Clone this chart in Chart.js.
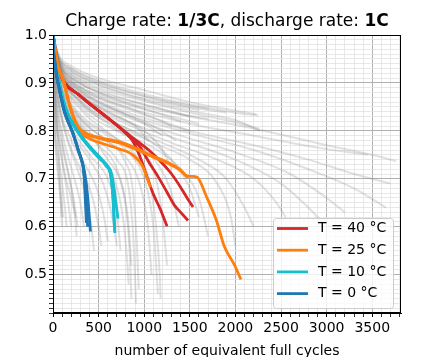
<!DOCTYPE html>
<html>
<head>
<meta charset="utf-8">
<script src="https://cdn.jsdelivr.net/npm/chart.js@4.4.0/dist/chart.umd.min.js"></script>
<style>
  html, body { margin: 0; padding: 0; background: #fff; overflow: hidden; }
  #wrap { position: relative; width: 423px; height: 360px; }
  #title {
    position: absolute; left: 53px; width: 348px; top: 12px;
    text-align: center; white-space: nowrap;
    font: 17px "DejaVu Sans"; line-height: 17px; color: #000;
  }
</style>
</head>
<body>
<div id="wrap">
  <canvas id="capChart" width="423" height="360"></canvas>
  <div id="title">Charge rate: <b>1/3C</b>, discharge rate: <b>1C</b></div>
</div>
<script>
// relative capacity vs. equivalent full cycles, points are [cycles, capacity]
var t40a = [[0,1.0],[10,0.99],[22,0.955],[77,0.92],[131,0.899],[277,0.876],[400,0.857],[600,0.827],[800,0.795],[870,0.78],
            [950,0.748],[1020,0.71],[1100,0.668],[1180,0.635],[1250,0.601]];
var t40b = [[0,1.0],[10,0.99],[22,0.955],[77,0.92],[131,0.899],[277,0.876],[400,0.857],[600,0.827],[800,0.795],[870,0.782],
            [960,0.765],[1050,0.735],[1150,0.705],[1250,0.672],[1330,0.645],[1400,0.63],[1480,0.613]];
var t40c = [[0,1.0],[10,0.99],[22,0.955],[77,0.92],[131,0.899],[277,0.876],[400,0.857],[600,0.827],[800,0.797],[880,0.785],
            [970,0.772],[1080,0.755],[1200,0.732],[1300,0.71],[1400,0.682],[1470,0.66],[1535,0.641]];

var t25a = [[0,1.0],[30,0.96],[70,0.925],[113,0.906],[160,0.87],[223,0.83],[280,0.808],[333,0.798],[516,0.786],[730,0.777],
            [875,0.767],[1000,0.756],[1100,0.747],[1250,0.735],[1390,0.72],[1470,0.706],[1520,0.705],[1580,0.703],
            [1680,0.664],[1790,0.614],[1880,0.558],[1990,0.52],[2060,0.49]];
var t25b = [[0,1.0],[30,0.96],[70,0.925],[113,0.906],[160,0.87],[223,0.83],[280,0.806],[333,0.796],[516,0.784],[730,0.775],
            [875,0.764],[1000,0.754],[1100,0.745],[1250,0.733],[1390,0.718],[1480,0.702]];
var t25c = [[0,1.0],[30,0.96],[70,0.925],[113,0.906],[160,0.868],[223,0.826],[280,0.8],[365,0.787],[550,0.773],[730,0.762],
            [875,0.75],[985,0.725],[1030,0.702],[1070,0.682]];

var t10a = [[0,1.0],[8,0.96],[30,0.93],[55,0.913],[110,0.865],[180,0.83],[290,0.795],[400,0.768],[510,0.745],[580,0.727],
            [630,0.71],[655,0.67],[668,0.63],[678,0.587]];
var t10b = [[0,1.0],[8,0.96],[30,0.93],[55,0.912],[110,0.863],[180,0.828],[290,0.793],[400,0.766],[510,0.745],[590,0.728],
            [640,0.712],[670,0.68],[690,0.65],[712,0.617]];
var t10c = [[0,1.0],[8,0.96],[30,0.93],[55,0.911],[110,0.862],[180,0.827],[290,0.792],[400,0.765],[510,0.742],[580,0.73],
            [625,0.715],[650,0.68],[665,0.63],[675,0.592]];

var t0a = [[0,1.0],[5,0.97],[18,0.948],[40,0.915],[73,0.885],[120,0.845],[146,0.83],[220,0.795],[275,0.762],[310,0.74],
           [330,0.725],[346,0.69],[358,0.64],[367,0.608]];
var t0b = [[0,1.0],[5,0.97],[18,0.946],[40,0.913],[73,0.882],[120,0.843],[146,0.828],[220,0.793],[275,0.76],[315,0.738],
           [340,0.72],[365,0.69],[390,0.64],[410,0.59]];
var t0c = [[0,1.0],[5,0.97],[18,0.947],[40,0.914],[73,0.884],[120,0.844],[146,0.829],[220,0.794],[275,0.761],[320,0.735],
           [342,0.71],[358,0.67],[372,0.625],[380,0.6]];

// all other cells of the test matrix, drawn faint in the background
var otherRuns = [
  [[0,1],[60,0.96],[200,0.935],[500,0.91],[1000,0.885],[1500,0.86],[2000,0.842],[2230,0.835]],
  [[0,1],[60,0.955],[200,0.93],[500,0.905],[1000,0.877],[1500,0.855],[2000,0.838],[2250,0.832]],
  [[0,1],[60,0.955],[200,0.925],[500,0.9],[1000,0.872],[1500,0.85],[1900,0.838]],
  [[0,1],[60,0.95],[200,0.92],[500,0.895],[1000,0.865],[1500,0.842],[2000,0.822],[2270,0.8]],
  [[0,1],[60,0.95],[200,0.918],[500,0.89],[1000,0.862],[1500,0.838],[2000,0.818],[2260,0.805]],
  [[0,1],[60,0.945],[200,0.91],[500,0.882],[1000,0.855],[1400,0.835],[1700,0.825]],
  [[0,1],[60,0.945],[200,0.905],[500,0.875],[900,0.85],[1300,0.83],[1600,0.815]],
  [[0,1],[60,0.94],[200,0.9],[500,0.868],[900,0.84],[1200,0.82],[1500,0.8]],
  [[0,1],[60,0.94],[200,0.895],[500,0.86],[800,0.835],[1100,0.81],[1350,0.78]],
  [[0,1],[60,0.935],[200,0.89],[500,0.85],[800,0.822],[1000,0.8],[1200,0.76],[1300,0.72]],
  [[0,1],[50,0.96],[200,0.93],[500,0.902],[900,0.878],[1300,0.86],[1700,0.846]],
  [[0,1],[50,0.955],[200,0.925],[500,0.897],[900,0.872],[1300,0.855],[1600,0.843]],
  [[0,1],[50,0.95],[200,0.915],[500,0.886],[900,0.86],[1200,0.845],[1500,0.83]],
  [[0,1],[50,0.95],[200,0.912],[500,0.88],[800,0.858],[1100,0.84],[1400,0.82]],
  [[0,1],[50,0.945],[200,0.905],[500,0.872],[800,0.85],[1100,0.828],[1300,0.81]],
  [[0,1],[50,0.94],[200,0.9],[450,0.865],[700,0.842],[1000,0.815],[1200,0.79]],
  [[0,1],[40,0.94],[150,0.9],[400,0.86],[650,0.835],[900,0.81],[1050,0.78]],
  [[0,1],[80,0.94],[300,0.9],[800,0.86],[1500,0.83],[2200,0.805],[3000,0.77],[3500,0.75],[3760,0.737]],
  [[0,1],[80,0.935],[300,0.89],[800,0.85],[1500,0.815],[2200,0.79],[2900,0.765],[3450,0.75]],
  [[0,1],[80,0.93],[300,0.885],[800,0.84],[1500,0.8],[2200,0.77],[2800,0.74],[3300,0.71],[3700,0.69]],
  [[0,1],[80,0.93],[300,0.88],[800,0.835],[1500,0.795],[2200,0.76],[2800,0.72],[3300,0.68],[3650,0.64]],
  [[0,1],[80,0.925],[300,0.875],[800,0.83],[1400,0.79],[2000,0.755],[2600,0.71],[3000,0.66],[3200,0.63]],
  [[0,1],[80,0.925],[300,0.87],[800,0.82],[1400,0.78],[2000,0.74],[2500,0.69],[2800,0.64],[2950,0.61]],
  [[0,1],[80,0.92],[300,0.865],[800,0.815],[1300,0.775],[1800,0.74],[2200,0.7],[2450,0.65],[2550,0.62]],
  [[0,1],[80,0.92],[300,0.86],[700,0.815],[1200,0.775],[1600,0.74],[1900,0.7],[2100,0.64],[2200,0.6]],
  [[0,1],[80,0.915],[300,0.855],[700,0.81],[1100,0.775],[1500,0.74],[1800,0.69],[1950,0.62],[2000,0.56]],
  [[0,1],[80,0.915],[300,0.85],[700,0.8],[1100,0.765],[1400,0.72],[1600,0.66],[1700,0.58]],
  [[0,1],[70,0.91],[250,0.845],[600,0.795],[900,0.76],[1100,0.72],[1200,0.62],[1250,0.52]],
  [[0,1],[70,0.91],[250,0.84],[600,0.79],[850,0.75],[1000,0.7],[1100,0.6],[1150,0.46]],
  [[0,1],[80,0.91],[300,0.845],[650,0.79],[900,0.75],[1050,0.7],[1130,0.6],[1170,0.5],[1180,0.45]],
  [[0,1],[70,0.905],[250,0.835],[550,0.785],[800,0.745],[950,0.69],[1040,0.6],[1080,0.5]],
  [[0,1],[70,0.905],[260,0.835],[580,0.78],[780,0.74],[880,0.67],[920,0.56],[940,0.47]],
  [[0,1],[70,0.9],[250,0.83],[500,0.78],[700,0.74],[830,0.68],[880,0.58],[910,0.44]],
  [[0,1],[70,0.9],[250,0.825],[500,0.77],[700,0.72],[800,0.64],[840,0.55],[860,0.45]],
  [[0,1],[60,0.895],[200,0.82],[450,0.76],[650,0.71],[750,0.64],[800,0.56],[830,0.48]],
  [[0,1],[60,0.89],[200,0.81],[400,0.75],[600,0.7],[700,0.63],[740,0.55]],
  [[0,1],[60,0.885],[200,0.8],[400,0.74],[550,0.69],[650,0.62],[700,0.56]],
  [[0,1],[50,0.88],[180,0.79],[350,0.73],[480,0.68],[560,0.62],[600,0.57]],
  [[0,1],[50,0.875],[150,0.79],[300,0.72],[420,0.67],[500,0.6],[530,0.56]],
  [[0,1],[40,0.89],[130,0.8],[250,0.73],[350,0.67],[420,0.6],[450,0.55]],
  [[0,1],[40,0.87],[120,0.78],[220,0.71],[300,0.65],[340,0.6]],
  [[0,1],[30,0.86],[100,0.77],[180,0.7],[240,0.64],[270,0.6]],
  [[0,1],[30,0.88],[90,0.79],[160,0.72],[220,0.66],[260,0.58]],
  [[0,1],[25,0.85],[80,0.76],[140,0.69],[180,0.63],[200,0.6]],
  [[0,1],[20,0.84],[60,0.75],[100,0.69],[130,0.64],[150,0.6]],
  [[0,1],[15,0.83],[50,0.74],[80,0.68],[100,0.64],[110,0.62]],
  [[0,1],[20,0.9],[50,0.8],[70,0.72],[85,0.66],[95,0.62]],
  [[0,1],[10,0.85],[30,0.76],[60,0.7],[80,0.66],[100,0.6]],
  [[0,1],[20,0.86],[70,0.78],[130,0.71],[200,0.66],[250,0.62]],
  [[0,1],[60,0.9],[220,0.83],[450,0.78],[600,0.74],[750,0.69],[820,0.62],[860,0.52]],
  [[0,1],[90,0.92],[300,0.86],[650,0.81],[950,0.77],[1150,0.73],[1300,0.67],[1380,0.6]],
  [[0,1],[90,0.92],[300,0.862],[700,0.815],[1050,0.78],[1300,0.74],[1500,0.68],[1600,0.62]]
];

var legendLabels = ['T = 40 °C', 'T = 25 °C', 'T = 10 °C', 'T = 0 °C'];
var tempColors = ['#d62728', '#ff7f0e', '#17becf', '#1f77b4'];
var xMax = 3815;
var yMin = 0.42;
var yMax = 1.0;

function toXY(run) {
    return run.map(p => ({x: p[0], y: p[1]}));
}

function coloredSet(run, color) {
    return {
        data: toXY(run),
        borderColor: color,
        borderWidth: 2.8,
        pointRadius: 0,
        cubicInterpolationMode: 'monotone',
        fill: false
    };
}

// first in the list ends up on top
var datasets = [];
[[t0a, t0b, t0c], [t10a, t10b, t10c], [t25a, t25b, t25c], [t40a, t40b, t40c]].forEach((group, i) => {
    var color = tempColors[3 - i];
    group.forEach(run => datasets.push(coloredSet(run, color)));
});
otherRuns.forEach(run => {
    datasets.push({
        data: toXY(run),
        borderColor: 'rgba(128,128,128,0.24)',
        borderWidth: 2,
        pointRadius: 0,
        cubicInterpolationMode: 'monotone',
        fill: false
    });
});

function isMajorX(v) { return Math.abs(v % 500) < 1e-6; }
function isMajorY(v) { return Math.abs(v * 10 - Math.round(v * 10)) < 1e-6; }

const frameAndLegend = {
    id: 'frameAndLegend',
    afterDatasetsDraw(chart) {
        const ctx = chart.ctx;
        const a = chart.chartArea;
        ctx.save();
        ctx.strokeStyle = '#000';
        ctx.lineWidth = 1;
        ctx.strokeRect(Math.round(a.left) + 0.5, Math.round(a.top) + 0.5,
                       Math.round(a.right - a.left) - 1, Math.round(a.bottom - a.top) - 1);

        // legend box in the lower right corner
        const w = 120, h = 90;
        const bx = a.right - 8 - w, by = a.bottom - 5 - h;
        ctx.beginPath();
        ctx.roundRect(bx + 0.5, by + 0.5, w, h, 3);
        ctx.fillStyle = 'rgba(255,255,255,0.8)';
        ctx.fill();
        ctx.strokeStyle = '#cccccc';
        ctx.stroke();

        ctx.font = '14px "DejaVu Sans"';
        ctx.textBaseline = 'middle';
        ctx.textAlign = 'left';
        legendLabels.forEach((label, i) => {
            const y = by + 10.5 + i * 21.7;
            ctx.beginPath();
            ctx.moveTo(bx + 4, y);
            ctx.lineTo(bx + 35, y);
            ctx.strokeStyle = tempColors[i];
            ctx.lineWidth = 2.8;
            ctx.stroke();
            ctx.fillStyle = '#000';
            ctx.fillText(label, bx + 45, y);
        });
        ctx.restore();
    }
};

new Chart(document.getElementById('capChart'), {
    type: 'line',
    data: { datasets: datasets },
    options: {
        responsive: false,
        animation: false,
        events: [],
        layout: { padding: { left: 0, right: 22, top: 35, bottom: 0 } },
        plugins: {
            legend: { display: false },
            title: { display: false },
            tooltip: { enabled: false }
        },
        scales: {
            x: {
                type: 'linear',
                min: 0,
                max: xMax,
                afterFit: s => { s.height = 47; },
                ticks: {
                    stepSize: 100,
                    autoSkip: false,
                    includeBounds: false,
                    maxRotation: 0,
                    padding: 3,
                    color: '#000',
                    font: { family: 'DejaVu Sans', size: 14 },
                    callback: v => isMajorX(v) ? String(v) : ''
                },
                grid: {
                    color: c => (c.tick && isMajorX(c.tick.value)) ? '#b0b0b0' : '#e2e2e2',
                    lineWidth: c => (c.tick && isMajorX(c.tick.value)) ? 1 : 0.8,
                    tickColor: '#000',
                    tickLength: 4
                },
                border: { color: '#000', width: 1 },
                title: {
                    display: true,
                    text: 'number of equivalent full cycles',
                    color: '#000',
                    font: { family: 'DejaVu Sans', size: 14 },
                    padding: { top: 0, bottom: 0 }
                }
            },
            y: {
                min: yMin,
                max: yMax,
                afterFit: s => { s.width = 53; },
                ticks: {
                    stepSize: 0.01,
                    autoSkip: false,
                    includeBounds: false,
                    padding: 2,
                    color: '#000',
                    font: { family: 'DejaVu Sans', size: 14 },
                    callback: v => isMajorY(v) ? v.toFixed(1) : ''
                },
                grid: {
                    color: c => (c.tick && isMajorY(c.tick.value)) ? '#b0b0b0' : '#e2e2e2',
                    lineWidth: c => (c.tick && isMajorY(c.tick.value)) ? 1 : 0.8,
                    tickColor: '#000',
                    tickLength: 4
                },
                border: { color: '#000', width: 1 }
            }
        }
    },
    plugins: [frameAndLegend]
});
</script>
</body>
</html>
